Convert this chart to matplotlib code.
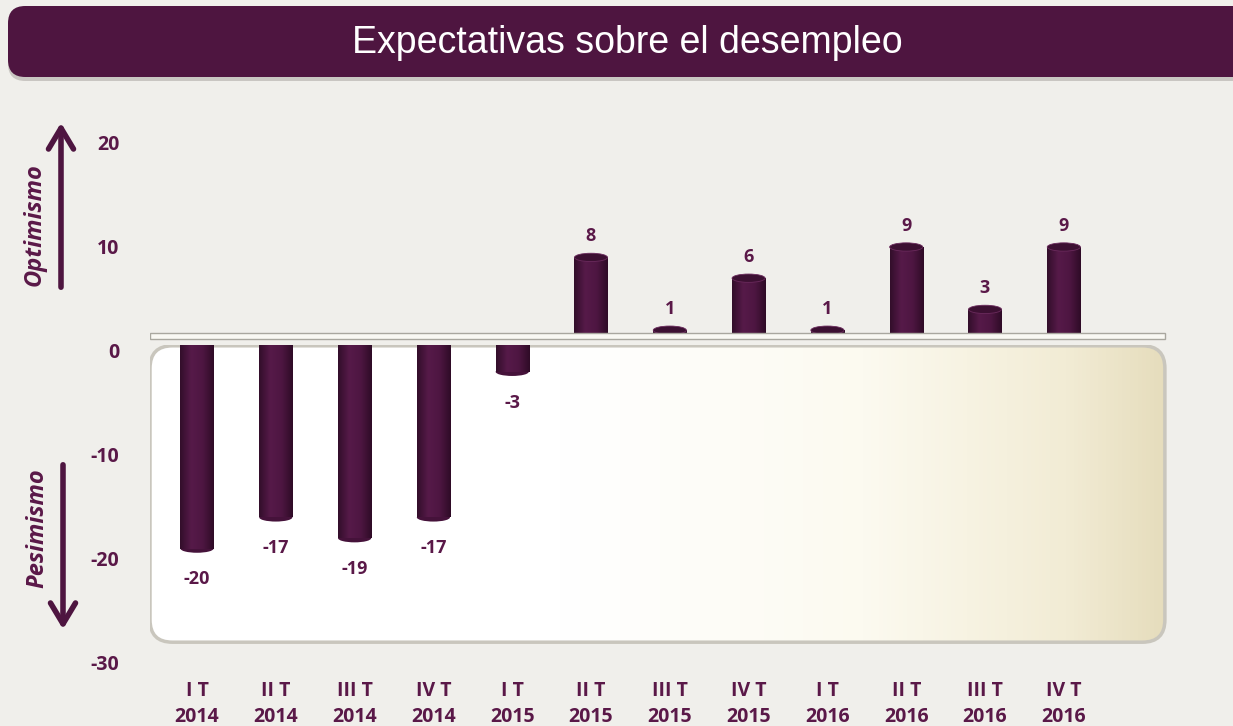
import numpy as np
import matplotlib.pyplot as plt
from matplotlib.patches import FancyBboxPatch, FancyArrowPatch, Ellipse, Rectangle
from matplotlib.colors import LinearSegmentedColormap

# datos de la gráfica
trimestres = ['I T', 'II T', 'III T', 'IV T'] * 3
anios = ['2014'] * 4 + ['2015'] * 4 + ['2016'] * 4
valores = [-20, -17, -19, -17, -3, 8, 1, 6, 1, 9, 3, 9]
ticks_y = [-30, -20, -10, 0, 10, 20]

etiquetas = [f'{t}\n{a}' for t, a in zip(trimestres, anios)]

# colores y fuente
morado = '#4E1540'
texto = '#5A1848'
fondo = '#F0EFEB'
fuente = 'Open Sans'

W, H = 1233, 726
fig = plt.figure(figsize=(W / 100, H / 100), dpi=100, facecolor=fondo)

# barra de título
sombra = FancyBboxPatch((8 / W, (H - 81) / H), 1.1, 72 / H, boxstyle='round,pad=0,rounding_size=0.014',
                        mutation_aspect=W / H, transform=fig.transFigure, fc='#9A9590', ec='none', alpha=0.45)
fig.add_artist(sombra)
barra = FancyBboxPatch((8 / W, (H - 77) / H), 1.1, 71 / H, boxstyle='round,pad=0,rounding_size=0.014',
                       mutation_aspect=W / H, transform=fig.transFigure, fc=morado, ec='none')
fig.add_artist(barra)
fig.text(627 / W, (H - 43) / H, 'Expectativas sobre el desempleo', color='white', fontsize=27,
         family='Liberation Sans', ha='center', va='center')

# ejes
paso = 78.8
ax = fig.add_axes([150 / W, 63 / H, 1020 / W, 520 / H])
ax.set_facecolor('none')
for s in ax.spines.values():
    s.set_visible(False)

x = np.arange(len(valores))

# piso (caja redondeada con degradado)
piso = FancyBboxPatch((0.0, 0.04), 0.995, 0.57, boxstyle='round,pad=0,rounding_size=0.022',
                      mutation_aspect=1020 / 520, transform=ax.transAxes, fc='none', ec='#C9C6BD', lw=2.5, zorder=1.2)
ax.add_patch(piso)
cmap_piso = LinearSegmentedColormap.from_list(
    'piso', [(0, '#FFFFFF'), (0.4, '#FFFFFF'), (0.7, '#FCFAF0'), (0.9, '#F2ECD5'), (1, '#E5DCBB')])
grad = np.linspace(0, 1, 256).reshape(1, -1)
img = ax.imshow(grad, extent=[0, 1, 0, 1], transform=ax.transAxes, aspect='auto', cmap=cmap_piso, zorder=1)
img.set_clip_path(piso)

# repisa y hueco entre repisa y piso
repisa = Rectangle((0.0, 0.623), 0.995, 0.012, transform=ax.transAxes, fc='#F9F8F3', ec='#A9A79F', lw=1, zorder=4)
ax.add_patch(repisa)
hueco = Rectangle((0.0, 0.612), 0.995, 0.011, transform=ax.transAxes, fc=fondo, ec='none', zorder=3.5)
ax.add_patch(hueco)

# barras cilíndricas (desplazadas como en la vista 3D original)
cmap_barra = LinearSegmentedColormap.from_list('barra', ['#320E2A', '#561A49', '#4E1642', '#2E0B26'])
ancho = 0.42
desfase = 1.0
barras = ax.bar(x, valores, width=ancho, bottom=desfase, color='none', zorder=3)
for b, v in zip(barras, valores):
    x0 = b.get_x()
    y0, y1 = b.get_y(), b.get_y() + b.get_height()
    extremo = y1
    g = ax.imshow(grad, extent=[x0, x0 + b.get_width(), min(y0, y1), max(y0, y1)], aspect='auto',
                  cmap=cmap_barra, zorder=3)
    g.set_clip_path(b)
    xc = x0 + b.get_width() / 2
    if v > 0:
        ax.add_patch(Ellipse((xc, extremo), ancho, 0.8, fc='#3C1032', ec='#6A2A5C', lw=0.6, zorder=3.05))
        ax.text(xc, extremo + 1.2, str(v), ha='center', va='bottom', color=texto, fontsize=13,
                fontweight='bold', family=fuente)
    else:
        ax.add_patch(Ellipse((xc, extremo), ancho, 0.8, fc='#45123A', ec='none', zorder=2.95))
        ax.text(xc, extremo - 2.1, str(v), ha='center', va='top', color=texto, fontsize=13,
                fontweight='bold', family=fuente)

ax.set_xlim(-(197 - 150) / paso, (1170 - 197) / paso)
ax.set_ylim(-30, 20)
ax.set_yticks(ticks_y)
ax.set_yticklabels([str(t) for t in ticks_y])
ax.set_xticks(x)
ax.set_xticklabels(etiquetas, linespacing=1.4)
ax.tick_params(length=0)
ax.tick_params(axis='y', pad=22)
ax.tick_params(axis='x', pad=13)
for lab in ax.get_yticklabels() + ax.get_xticklabels():
    lab.set_color(texto)
    lab.set_fontweight('bold')
    lab.set_family(fuente)
    lab.set_fontsize(14)

# flechas de optimismo / pesimismo
for y_ini, y_fin in [(290, 120), (462, 632)]:
    xf = 63 if y_ini < y_fin else 61
    flecha = FancyArrowPatch((xf / W, (H - y_ini) / H), (xf / W, (H - y_fin) / H), transform=fig.transFigure,
                             arrowstyle='->,head_length=0.75,head_width=0.45', mutation_scale=20,
                             lw=4, color=morado)
    fig.add_artist(flecha)
fig.text(35 / W, (H - 225) / H, 'Optimismo', rotation=90, style='italic', fontweight='bold',
         family=fuente, fontsize=17, color=texto, ha='center', va='center')
fig.text(37 / W, (H - 528) / H, 'Pesimismo', rotation=90, style='italic', fontweight='bold',
         family=fuente, fontsize=17, color=texto, ha='center', va='center')

fig.savefig('out.png', dpi=100, facecolor=fondo)
